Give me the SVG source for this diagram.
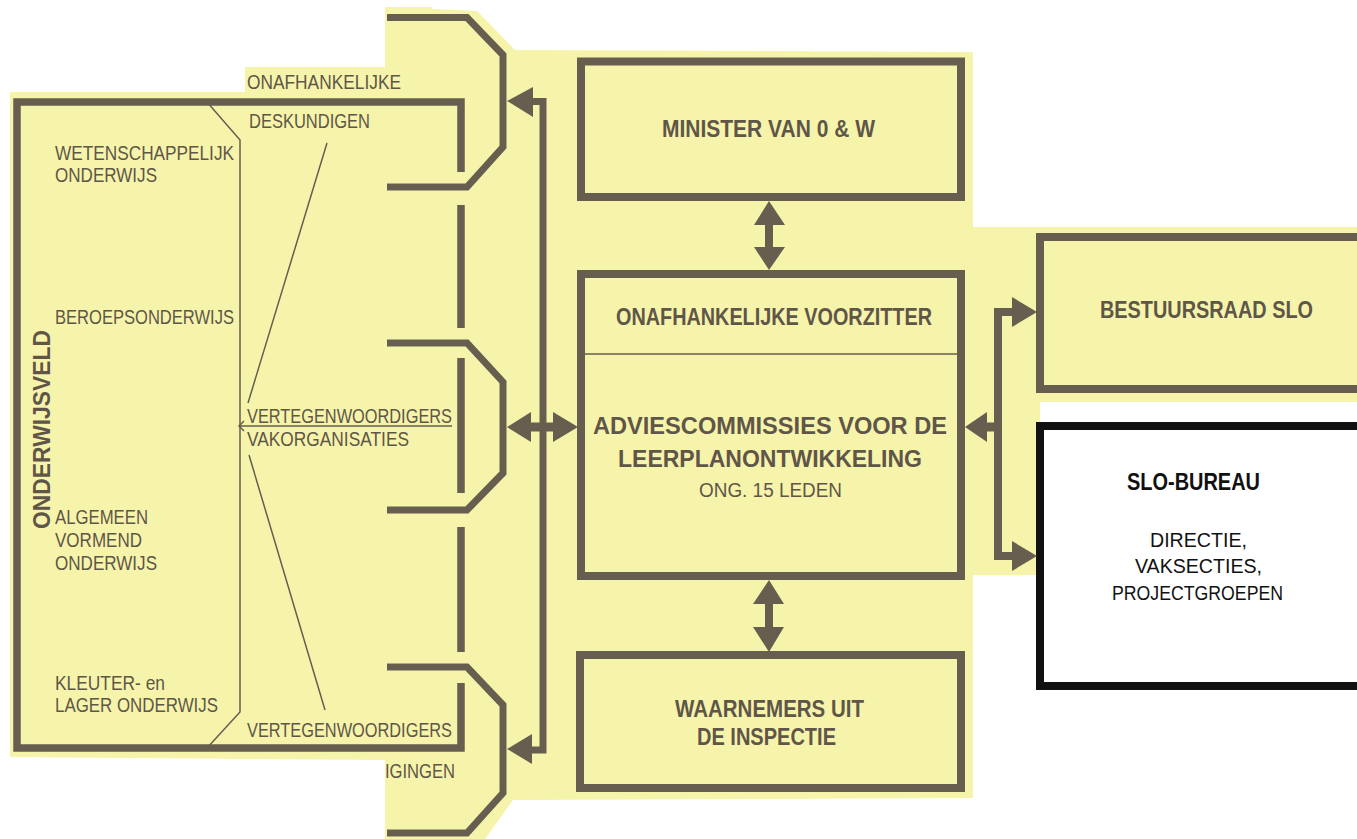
<svg xmlns="http://www.w3.org/2000/svg" width="1357" height="839" viewBox="0 0 1357 839">
<style>
.ln{fill:none;stroke:#685e50;stroke-linejoin:miter;stroke-linecap:butt}
.box{fill:none;stroke:#685e50;stroke-width:8}
.thin{fill:none;stroke:#685e50;stroke-width:1.5}
.ah{fill:#685e50;stroke:none}
.t{font-family:"Liberation Sans",Arial,sans-serif;fill:#5f5649;font-size:20px}
.b{font-family:"Liberation Sans",Arial,sans-serif;fill:#5f5649;font-weight:bold;font-size:23px}
.k{fill:#111}
</style>
<rect width="1357" height="839" fill="#ffffff"/>
<polygon fill="#f6f4aa" points="10,92 245,92 245,67 385,67 385,7 432,7 432,9 477,11 515,50 973,52 973,227 1357,227 1357,402 1040,402 1040,575 973,575 973,798 513,800 485,839 385,839 385,760 10,757"/>

<g id="onderwijsveld">
<path class="ln" stroke-width="7.5" d="M461,172 V102 H17 V748 H461 V683"/>
<path class="ln" stroke-width="7.5" d="M461,205 V328 M461,358 V493 M461,527 V652"/>
<path class="thin" d="M207,102 L240,140 V712 L207,748"/>
<path class="thin" d="M327,143 L248,403 M240,426 H452 M249,455 L325,710"/>
<path class="thin" d="M244,421 L239,426 L244,431"/>
<text class="b" font-size="30" transform="translate(50,529) rotate(-90)" textLength="199" lengthAdjust="spacingAndGlyphs">ONDERWIJSVELD</text>
<text class="t" x="247" y="89" textLength="154" lengthAdjust="spacingAndGlyphs">ONAFHANKELIJKE</text>
<text class="t" x="249" y="128" textLength="121" lengthAdjust="spacingAndGlyphs">DESKUNDIGEN</text>
<text class="t" x="55" y="160" textLength="179" lengthAdjust="spacingAndGlyphs">WETENSCHAPPELIJK</text>
<text class="t" x="55" y="182" textLength="102" lengthAdjust="spacingAndGlyphs">ONDERWIJS</text>
<text class="t" x="55" y="324" textLength="179" lengthAdjust="spacingAndGlyphs">BEROEPSONDERWIJS</text>
<text class="t" x="247" y="423" textLength="205" lengthAdjust="spacingAndGlyphs">VERTEGENWOORDIGERS</text>
<text class="t" x="247" y="446" textLength="162" lengthAdjust="spacingAndGlyphs">VAKORGANISATIES</text>
<text class="t" x="55" y="524" textLength="93" lengthAdjust="spacingAndGlyphs">ALGEMEEN</text>
<text class="t" x="55" y="547" textLength="87" lengthAdjust="spacingAndGlyphs">VORMEND</text>
<text class="t" x="55" y="570" textLength="102" lengthAdjust="spacingAndGlyphs">ONDERWIJS</text>
<text class="t" x="55" y="690" textLength="110" lengthAdjust="spacingAndGlyphs">KLEUTER- en</text>
<text class="t" x="55" y="712" textLength="163" lengthAdjust="spacingAndGlyphs">LAGER ONDERWIJS</text>
<text class="t" x="247" y="737" textLength="205" lengthAdjust="spacingAndGlyphs">VERTEGENWOORDIGERS</text>
<text class="t" x="385" y="778" textLength="70" lengthAdjust="spacingAndGlyphs">IGINGEN</text>
</g>

<g id="minister">
<rect class="box" x="581" y="61.5" width="380" height="135.5"/>
<text class="b" font-size="25" x="662" y="137" textLength="213" lengthAdjust="spacingAndGlyphs">MINISTER VAN 0 &amp; W</text>
</g>

<g id="adviescommissies">
<rect class="box" x="581" y="274" width="380" height="302"/>
<path class="thin" d="M585,354 H957"/>
<text class="b" x="616" y="325" textLength="316" lengthAdjust="spacingAndGlyphs">ONAFHANKELIJKE VOORZITTER</text>
<text class="b" font-size="28" x="593" y="434" textLength="354" lengthAdjust="spacingAndGlyphs">ADVIESCOMMISSIES VOOR DE</text>
<text class="b" font-size="28" x="618" y="467" textLength="304" lengthAdjust="spacingAndGlyphs">LEERPLANONTWIKKELING</text>
<text class="t" font-size="21" x="699" y="497" textLength="143" lengthAdjust="spacingAndGlyphs">ONG. 15 LEDEN</text>
</g>

<g id="waarnemers">
<rect class="box" x="580" y="655" width="381" height="133"/>
<text class="b" x="675" y="717" textLength="189" lengthAdjust="spacingAndGlyphs">WAARNEMERS UIT</text>
<text class="b" x="697" y="745" textLength="139" lengthAdjust="spacingAndGlyphs">DE INSPECTIE</text>
</g>

<g id="bestuursraad">
<rect class="box" x="1040" y="237" width="340" height="152"/>
<text class="b" x="1100" y="318" textLength="213" lengthAdjust="spacingAndGlyphs">BESTUURSRAAD SLO</text>
</g>

<g id="slo-bureau">
<rect x="1040" y="426" width="340" height="260" fill="#ffffff" stroke="#111" stroke-width="8"/>
<text class="b k" x="1127" y="490" textLength="133" lengthAdjust="spacingAndGlyphs">SLO-BUREAU</text>
<text class="t k" font-size="21" x="1150" y="547" textLength="97" lengthAdjust="spacingAndGlyphs">DIRECTIE,</text>
<text class="t k" font-size="21" x="1135" y="573" textLength="127" lengthAdjust="spacingAndGlyphs">VAKSECTIES,</text>
<text class="t k" font-size="21" x="1112" y="600" textLength="171" lengthAdjust="spacingAndGlyphs">PROJECTGROEPEN</text>
</g>

<g id="connectors">
<path class="ln" stroke-width="7" d="M387,17.5 H467 L503,55 V147 L467,187 H387"/>
<path class="ln" stroke-width="7" d="M387,343 H467 L503,382 V473 L467,510 H387"/>
<path class="ln" stroke-width="7" d="M387,667 H467 L503,705 V793 L467,833 H387"/>
<path class="ln" stroke-width="7" d="M530,101.5 H543 V750 H530"/>
<polygon class="ah" points="507,101 533,87 533,117"/>
<polygon class="ah" points="507,749 532,734 532,764"/>
<path class="ln" stroke-width="9" d="M529,427 H555"/>
<polygon class="ah" points="507,427 531,412 531,442"/>
<polygon class="ah" points="578,427 553,412 553,442"/>
<path class="ln" stroke-width="8" d="M769,222 V250"/>
<polygon class="ah" points="769,201 754,225 785,225"/>
<polygon class="ah" points="769,270 754,247 785,247"/>
<path class="ln" stroke-width="8" d="M769,601 V630"/>
<polygon class="ah" points="769,580 753,604 784,604"/>
<polygon class="ah" points="769,652 753,627 784,627"/>
<path class="ln" stroke-width="8" d="M1014,312 H998 V556 H1014"/>
<polygon class="ah" points="1037,312 1012,297 1012,327"/>
<polygon class="ah" points="1037,556 1012,541 1012,571"/>
<path class="ln" stroke-width="9" d="M985,427 H1002"/>
<polygon class="ah" points="965,427 987,412 987,442"/>
</g>
</svg>
